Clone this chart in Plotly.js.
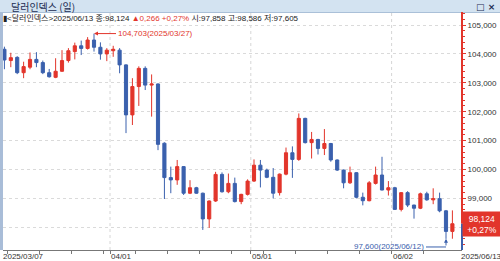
<!DOCTYPE html>
<html><head><meta charset="utf-8">
<script src="https://cdn.plot.ly/plotly-3.0.1.min.js"></script>
<style>html,body{margin:0;padding:0;background:#fff;}#chart{width:500px;height:261px;}</style>
</head><body><div id="chart"></div>
<script>
const dates = ['2025-03-07','2025-03-10','2025-03-11','2025-03-12','2025-03-13','2025-03-14','2025-03-17','2025-03-18','2025-03-19','2025-03-20','2025-03-21','2025-03-24','2025-03-25','2025-03-26','2025-03-27','2025-03-28','2025-03-31','2025-04-01','2025-04-02','2025-04-03','2025-04-04','2025-04-07','2025-04-08','2025-04-09','2025-04-10','2025-04-11','2025-04-14','2025-04-15','2025-04-16','2025-04-17','2025-04-18','2025-04-21','2025-04-22','2025-04-23','2025-04-24','2025-04-25','2025-04-28','2025-04-29','2025-04-30','2025-05-01','2025-05-02','2025-05-05','2025-05-06','2025-05-07','2025-05-08','2025-05-09','2025-05-12','2025-05-13','2025-05-14','2025-05-15','2025-05-16','2025-05-19','2025-05-20','2025-05-21','2025-05-22','2025-05-23','2025-05-26','2025-05-27','2025-05-28','2025-05-29','2025-05-30','2025-06-02','2025-06-03','2025-06-04','2025-06-05','2025-06-06','2025-06-09','2025-06-10','2025-06-11','2025-06-12','2025-06-13'];
const openV  = [104.16,103.77,103.88,103.35,103.54,103.81,103.70,103.35,103.19,103.40,103.77,104.08,104.28,104.19,104.48,104.23,104.00,104.11,104.13,103.62,101.89,102.87,103.50,102.92,102.96,100.91,99.72,99.64,100.10,99.18,99.37,99.18,98.29,98.91,99.83,99.23,99.52,98.89,99.14,99.60,100.15,99.98,99.73,99.20,99.84,100.58,100.35,101.77,100.93,101.04,100.73,100.90,100.33,99.98,99.54,99.89,99.04,98.92,99.52,99.81,99.29,99.37,98.62,99.20,98.77,98.66,99.16,98.95,98.99,98.57,97.858];
const highV  = [104.25,104.04,103.92,103.73,104.05,104.06,103.77,103.48,103.85,104.13,104.20,104.39,104.46,104.58,104.703,104.40,104.20,104.28,104.20,103.64,103.16,103.57,103.57,103.29,102.98,100.94,100.10,100.33,100.12,99.63,99.40,99.20,98.93,99.92,99.90,99.86,99.72,99.16,99.66,100.35,100.33,100.03,100.05,99.86,100.76,100.80,101.94,101.79,101.30,101.06,101.40,100.92,100.35,100.00,100.10,99.91,99.20,99.60,100.10,100.44,99.60,99.40,99.22,99.25,98.78,99.20,99.23,99.35,99.20,98.60,98.586];
const lowV   = [103.47,103.54,103.30,103.16,103.47,103.54,103.30,103.18,103.16,103.38,103.70,103.81,103.96,104.15,104.08,103.80,103.75,103.90,103.33,101.26,101.54,102.20,102.75,101.83,100.67,98.98,99.18,99.47,99.12,99.15,99.16,97.91,97.98,98.88,99.20,99.18,98.86,98.80,99.10,99.57,99.38,99.70,99.00,99.10,99.80,99.71,100.30,100.90,100.38,100.52,100.50,100.27,99.95,99.35,99.50,99.00,98.76,98.90,99.48,99.28,99.10,98.60,98.55,98.70,98.30,98.63,98.92,98.80,98.52,97.60,97.605];
const closeV = [103.79,103.87,103.35,103.56,103.81,103.70,103.35,103.21,103.40,103.77,104.11,104.28,104.19,104.48,104.23,104.00,104.13,104.16,103.62,101.89,102.87,103.50,102.92,102.96,100.87,99.72,99.64,100.10,99.18,99.37,99.18,98.29,98.91,99.83,99.23,99.52,98.89,99.14,99.60,100.15,99.98,99.73,99.18,99.84,100.58,100.35,101.77,100.93,101.04,100.73,100.90,100.33,99.98,99.54,99.89,99.04,98.92,99.54,99.81,99.29,99.37,98.62,99.20,98.77,98.66,99.16,98.95,98.99,98.57,97.858,98.124];
const yTicks = [98,99,100,101,102,103,104,105];
const seriesName = '달러인덱스';
const chartTitle = '달러인덱스 (일)';

const RED = '#e2352b', BLUE = '#3a60ad';
const NUMF = 'Liberation Sans, Arial, Noto Sans CJK KR, sans-serif';
const FS = 8;
const n = dates.length;
const xs = dates.map((d,i)=>i);
const fmt = v => v.toFixed(3).replace('.', ',');
const slash = d => d.replace(/-/g,'/');

// plot geometry in pixels
const L = 3, R = 462, T = 12, B = 250;
const px = p => (p - L) / (R - L);
const py = p => (B - p) / (B - T);

const tickPos = [], monthStarts = [];
dates.forEach((d,i)=>{
  if (i === 0) return;
  const wd = new Date(d + 'T00:00:00Z').getUTCDay();
  const newMonth = dates[i-1].slice(5,7) !== d.slice(5,7);
  if (wd === 1 || newMonth) tickPos.push(i - 0.5);
  if (newMonth) monthStarts.push(i);
});

const last = n - 1;
const chg = closeV[last] - closeV[last-1];
const pct = chg / closeV[last-1] * 100;
const chgTxt = (chg >= 0 ? '▲' : '▼') + chg.toFixed(3).replace('.', ',');
const pctTxt = (pct >= 0 ? '+' : '') + pct.toFixed(2).replace('.', ',') + '%';

let iMax = 0, iMin = 0;
highV.forEach((v,i)=>{ if (v > highV[iMax]) iMax = i; });
lowV.forEach((v,i)=>{ if (v < lowV[iMin]) iMin = i; });

const yMin = 97.215, yMax = 105.45;

const shapes = [
  {type:'rect', xref:'paper', yref:'paper', x0:px(0), x1:px(500), y0:py(12.5), y1:py(0), fillcolor:'#d3e3f1', line:{width:0}, layer:'above'},
  {type:'line', xref:'paper', yref:'paper', x0:px(0), x1:px(500), y0:py(12.5), y1:py(12.5), line:{color:'#aac0d8', width:1}, layer:'above'},
  {type:'rect', xref:'paper', yref:'paper', x0:px(0), x1:px(3), y0:py(250), y1:py(12.5), fillcolor:'#a9bdd8', line:{width:0}, layer:'above'},
  {type:'line', xref:'paper', yref:'y', x0:1, x1:1, y0:closeV[last], y1:yMax, line:{color:RED, width:2}, layer:'above'},
  {type:'line', xref:'paper', yref:'y', x0:1, x1:1, y0:yMin, y1:closeV[last], line:{color:BLUE, width:2}, layer:'above'},
];
monthStarts.forEach(m => shapes.push({type:'line', xref:'x', yref:'paper', x0:m-0.5, x1:m-0.5, y0:0, y1:1, line:{color:'#d6d6d6', width:1, dash:'dot'}, layer:'below'}));

const minElbowY = 97.32;
const annotations = [
  {xref:'paper', yref:'paper', x:px(9), y:py(6.5), xanchor:'left', yanchor:'middle', showarrow:false, text:chartTitle, font:{family:'Noto Sans CJK KR, sans-serif', size:10, color:'#1c2c52'}},
  {xref:'paper', yref:'paper', x:px(497), y:py(6.5), xanchor:'right', yanchor:'middle', showarrow:false, text:'<b>□ ×</b>', font:{family:'DejaVu Sans, sans-serif', size:9, color:'#1c2c52'}},
  {xref:'paper', yref:'paper', x:px(1), y:py(17.5), xanchor:'left', yanchor:'middle', showarrow:false,
   text:'▮&lt;' + seriesName + '&gt;' + slash(dates[last]) + ' 종:' + fmt(closeV[last]) + ' <span style="color:' + RED + '">' + chgTxt + ' ' + pctTxt + '</span> 시:' + fmt(openV[last]) + ' 고:' + fmt(highV[last]) + ' 저:' + fmt(lowV[last]),
   font:{family:NUMF, size:FS, color:'#222'}},
  {xref:'x', yref:'y', x:iMax, y:highV[iMax], ax:22, ay:0, xanchor:'left', showarrow:true, arrowhead:2, arrowsize:0.8, arrowwidth:1, arrowcolor:RED,
   text:fmt(highV[iMax]) + '(' + slash(dates[iMax]) + ')', font:{family:NUMF, size:FS, color:RED}},
  {xref:'x', yref:'y', x:iMin, y:minElbowY, ax:-20, ay:0, xanchor:'right', showarrow:true, arrowhead:0, arrowwidth:1, arrowcolor:BLUE,
   text:fmt(lowV[iMin]) + '(' + slash(dates[iMin]) + ')', font:{family:NUMF, size:FS, color:BLUE}},
  {xref:'x', yref:'y', axref:'x', ayref:'y', x:iMin, y:lowV[iMin], ax:iMin, ay:minElbowY, text:'', showarrow:true, arrowhead:2, arrowsize:0.8, arrowwidth:1, arrowcolor:BLUE},
  {xref:'paper', yref:'y', x:1, y:closeV[last], xanchor:'left', yanchor:'middle', showarrow:false, align:'center',
   text:fmt(closeV[last]) + '<br>' + pctTxt, bgcolor:RED, width:35, borderpad:1.5, font:{family:NUMF, size:8.5, color:'#fff'}},
  {xref:'paper', yref:'paper', x:0, y:0, xanchor:'left', yanchor:'top', xshift:-2, yshift:0, showarrow:false, text:slash(dates[0]), font:{family:NUMF, size:FS, color:'#333'}},
  {xref:'paper', yref:'paper', x:1, y:0, xanchor:'left', yanchor:'top', xshift:-3, yshift:0, showarrow:false, text:slash(dates[last]), font:{family:NUMF, size:FS, color:'#333'}},
];
monthStarts.forEach(m => annotations.push({xref:'x', yref:'paper', x:m-0.5, y:0, xanchor:'left', yanchor:'top', xshift:-1, yshift:0, showarrow:false, text:slash(dates[m]).slice(5), font:{family:NUMF, size:FS, color:'#333'}}));

const trace = {
  type:'candlestick', x:xs, open:openV, high:highV, low:lowV, close:closeV,
  increasing:{line:{color:RED, width:1}, fillcolor:RED},
  decreasing:{line:{color:BLUE, width:1}, fillcolor:BLUE},
  whiskerwidth:0, hoverinfo:'none'
};

const layout = {
  width:500, height:261, margin:{l:L, r:500-R, t:T, b:261-B},
  paper_bgcolor:'#fff', plot_bgcolor:'#fff', showlegend:false, boxgap:0.3,
  xaxis:{range:[-0.22, 71.5], rangeslider:{visible:false}, showgrid:false, zeroline:false,
    tickvals:tickPos, ticktext:tickPos.map(()=>''), ticks:'outside', ticklen:3, tickcolor:'#777',
    showline:true, linecolor:'#777', linewidth:1, fixedrange:true, automargin:false},
  yaxis:{side:'right', range:[yMin, yMax], tickvals:yTicks, ticktext:yTicks.map(v => v === 98 ? '' : fmt(v)),
    showgrid:true, gridcolor:'#dadada', griddash:'dot', zeroline:false, showline:false,
    ticks:'outside', ticklen:3, tickcolor:RED, automargin:false, fixedrange:true,
    tickfont:{family:NUMF, size:FS, color:'#333'},
    minor:{ticks:'outside', ticklen:2, tickcolor:RED, dtick:0.2, showgrid:false}},
  shapes:shapes, annotations:annotations
};
Plotly.newPlot('chart', [trace], layout, {displayModeBar:false, staticPlot:true});
</script></body></html>
